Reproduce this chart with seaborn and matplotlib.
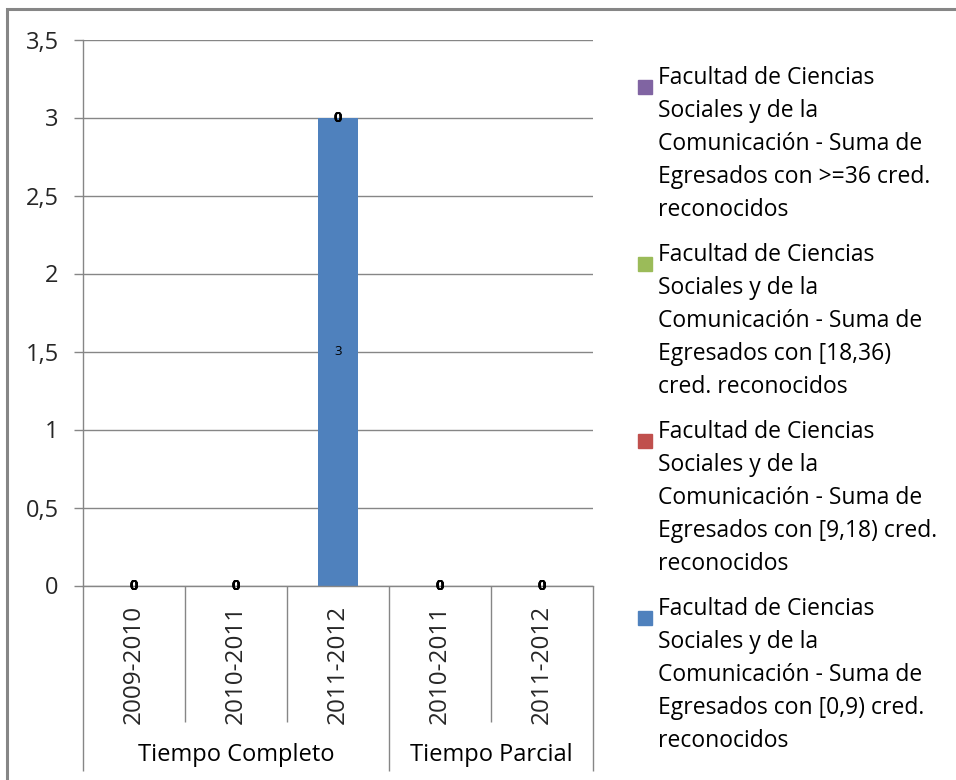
import seaborn as sns
import matplotlib.pyplot as plt
import matplotlib.patches as mpatches
import pandas as pd
import numpy as np

# categories (two-level x axis)
periods = ['2009-2010', '2010-2011', '2011-2012', '2010-2011', '2011-2012']
groups = ['Tiempo Completo', 'Tiempo Parcial']
group_sizes = [3, 2]

# series values, bottom of the stack first
vals_0_9 = [0, 0, 3, 0, 0]
vals_9_18 = [0, 0, 0, 0, 0]
vals_18_36 = [0, 0, 0, 0, 0]
vals_36 = [0, 0, 0, 0, 0]

series_names = [
    'Facultad de Ciencias\nSociales y de la\nComunicación - Suma de\nEgresados con [0,9) cred.\nreconocidos',
    'Facultad de Ciencias\nSociales y de la\nComunicación - Suma de\nEgresados con [9,18) cred.\nreconocidos',
    'Facultad de Ciencias\nSociales y de la\nComunicación - Suma de\nEgresados con [18,36)\ncred. reconocidos',
    'Facultad de Ciencias\nSociales y de la\nComunicación - Suma de\nEgresados con >=36 cred.\nreconocidos',
]
colors = ['#4F81BD', '#C0504D', '#9BBB59', '#8064A2']
yticks = [0, 0.5, 1, 1.5, 2, 2.5, 3, 3.5]

sns.set_style('white')
plt.rcParams['font.family'] = ['Open Sans', 'DejaVu Sans']
grey = '#868686'

group_of = [g for g, n in zip(groups, group_sizes) for _ in range(n)]
keys = [f'{g} {p} {i}' for i, (g, p) in enumerate(zip(group_of, periods))]
all_vals = np.array([vals_0_9, vals_9_18, vals_18_36, vals_36], dtype=float)
cum = all_vals.cumsum(axis=0)

fig = plt.figure(figsize=(9.56, 7.8), dpi=100)
ax = fig.add_axes([83 / 956, 1 - 585.5 / 780, 510 / 956, 546 / 780])

# stacked bars: draw cumulative totals from the top series down
for i in reversed(range(len(all_vals))):
    df = pd.DataFrame({'key': keys, 'total': cum[i]})
    sns.barplot(data=df, x='key', y='total', order=keys, color=colors[i],
                saturation=1, width=0.4, errorbar=None, linewidth=0, ax=ax)

# data labels at the centre of each segment
for i in range(len(all_vals)):
    for j in range(len(keys)):
        v = all_vals[i, j]
        ax.text(j, cum[i, j] - v / 2, f'{v:g}', ha='center', va='center',
                fontsize=10.5 if v == 0 else 9.5, color='black', zorder=5,
                fontweight='bold' if v == 0 else 'normal')

ax.set_ylim(0, 3.5)
ax.set_xlim(-0.5, len(keys) - 0.5)
ax.set_yticks(yticks)
ax.set_yticklabels([f'{t:g}'.replace('.', ',') for t in yticks], fontsize=17)
ax.set_xticks(range(len(keys)))
ax.set_xticklabels(periods, rotation=90, fontsize=17.5)
ax.set_xlabel('')
ax.set_ylabel('')
ax.yaxis.grid(True, color=grey, linewidth=1)
ax.set_axisbelow(True)
ax.tick_params(axis='y', length=6.5, width=1, color=grey, pad=11, left=True)
ax.tick_params(axis='x', length=0, pad=14)
for s in ['top', 'right']:
    ax.spines[s].set_visible(False)
for s in ['left', 'bottom']:
    ax.spines[s].set_color(grey)
    ax.spines[s].set_linewidth(1)

# multi-level axis separators and group labels
trans = ax.get_xaxis_transform()
edges = np.cumsum([0] + group_sizes) - 0.5
inner = [b - 0.5 for b in range(1, len(keys)) if (b - 0.5) not in edges]
ax.vlines(inner, -0.25, 0, transform=trans, colors=grey, linewidth=1, clip_on=False)
ax.vlines(edges, -0.34, 0, transform=trans, colors=grey, linewidth=1, clip_on=False)
for g, a, b in zip(groups, edges[:-1], edges[1:]):
    ax.text((a + b) / 2, -0.31, g, transform=trans, ha='center', va='center',
            fontsize=17, color='black')

# legend, top entry is the last series
for k, i in enumerate(reversed(range(len(series_names)))):
    top = 66 + k * 177
    fig.patches.append(mpatches.Rectangle((638 / 956, 1 - (top + 28) / 780), 14 / 956, 14 / 780,
                                          transform=fig.transFigure, color=colors[i]))
    fig.text(658 / 956, 1 - top / 780, series_names[i], ha='left', va='top',
             fontsize=16.5, linespacing=1.5, color='black')

# outer chart frame
fig.patches.append(mpatches.Rectangle((7 / 956, -0.1), 1.2, 1 - 9 / 780 + 0.1, transform=fig.transFigure,
                                      fill=False, edgecolor=grey, linewidth=2.2))

fig.savefig('out.png', dpi=100)
